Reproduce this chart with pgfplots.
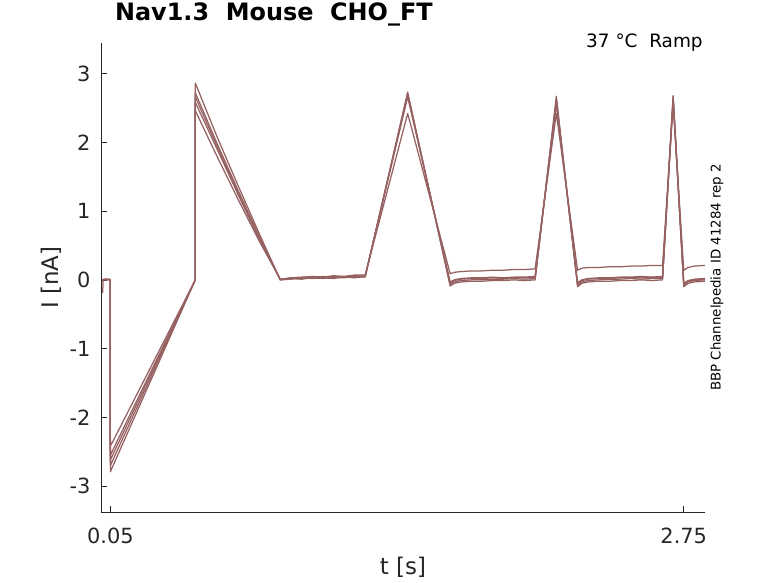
\documentclass[border=0pt]{standalone}
\usepackage{fontspec}
\setmainfont{DejaVu Sans}
\usepackage{pgfplots}
\pgfplotsset{compat=1.18}
\definecolor{trace}{RGB}{150,97,97}
\definecolor{axgray}{RGB}{38,38,38}
\tikzset{tr/.style={draw=trace, line width=1.25bp, line join=round, mark=none}}
\begin{document}
\begin{tikzpicture}
\useasboundingbox (0,0) rectangle (778bp,583bp);
\begin{axis}[
  at={(101bp,70.7bp)}, anchor=south west,
  width=604bp, height=469bp, scale only axis,
  xmin=0.006, xmax=2.85, ymin=-3.38, ymax=3.44,
  clip=false,
  axis line style={draw=none},
  xtick pos=bottom, ytick pos=left,
  xtick={0.05,2.75}, xticklabels={0.05,2.75},
  ytick={-3,-2,-1,0,1,2,3}, yticklabels={-3,-2,-1,0,1,2,3},
  tick align=inside, major tick length=6bp,
  tick style={axgray, line width=0.6bp},
  ticklabel style={font=\fontsize{21}{24}\selectfont, text=axgray},
  xticklabel style={yshift=-12bp},
  yticklabel style={xshift=-7bp},
  xlabel={t [s]}, ylabel={I [nA]},
  label style={font=\fontsize{23}{27}\selectfont, text=axgray},
  xlabel style={at={(axis description cs:0.5,-0.1166)}, anchor=center},
  ylabel style={at={(axis description cs:-0.0828,0.5)}, anchor=center},
  title={Nav1.3~~Mouse~~CHO\_FT},
  title style={at={(axis description cs:0.0175,1.0369)}, anchor=base west, font=\fontsize{24}{28}\selectfont\bfseries, text=black},
]
\draw[axgray, line width=0.6bp, line cap=butt] (axis cs:0.006,3.44) -- (axis cs:0.006,-3.38) -- (axis cs:2.85,-3.38);
% trace 1
\addplot[tr] coordinates {(0.012,-0.19)(0.014,-0.18)(0.016,0.00)(0.025,0.01)(0.035,0.00)(0.049,0.01)(0.0502,-2.79)(0.45,0.00)(0.4502,2.86)(0.55,2.10)(0.65,1.38)(0.75,0.68)(0.85,0.00)(0.90,0.02)(0.95,0.01)(1.00,0.03)(1.05,0.02)(1.10,0.04)(1.15,0.03)(1.20,0.05)(1.25,0.04)(1.45,2.73)(1.65,-0.09)(1.67,-0.05)(1.70,-0.03)(1.75,-0.02)(1.80,-0.02)(1.85,-0.01)(1.90,-0.01)(1.95,0.00)(2.00,-0.01)(2.05,0.00)(2.15,2.67)(2.25,-0.10)(2.27,-0.05)(2.30,-0.03)(2.35,-0.02)(2.40,-0.02)(2.45,-0.01)(2.50,-0.01)(2.55,0.00)(2.60,-0.01)(2.65,0.00)(2.70,2.68)(2.75,-0.10)(2.77,-0.05)(2.80,-0.03)(2.85,-0.02)};
% trace 2
\addplot[tr] coordinates {(0.014,0.00)(0.025,0.01)(0.035,0.00)(0.049,0.00)(0.0502,-2.70)(0.45,0.00)(0.4502,2.72)(0.55,2.00)(0.65,1.31)(0.75,0.64)(0.85,0.00)(0.90,0.01)(0.95,0.03)(1.00,0.02)(1.05,0.03)(1.10,0.02)(1.15,0.04)(1.20,0.03)(1.25,0.05)(1.45,2.71)(1.65,-0.07)(1.67,-0.03)(1.70,-0.01)(1.75,0.00)(1.80,0.00)(1.85,0.01)(1.90,0.01)(1.95,0.02)(2.00,0.01)(2.05,0.02)(2.15,2.63)(2.25,-0.08)(2.27,-0.03)(2.30,-0.01)(2.35,0.00)(2.40,0.01)(2.45,0.01)(2.50,0.02)(2.55,0.01)(2.60,0.02)(2.65,0.02)(2.70,2.66)(2.75,-0.08)(2.77,-0.03)(2.80,-0.01)(2.85,0.00)};
% trace 3
\addplot[tr] coordinates {(0.014,0.00)(0.025,0.00)(0.035,0.01)(0.049,0.00)(0.0502,-2.62)(0.45,0.00)(0.4502,2.66)(0.55,1.96)(0.65,1.28)(0.75,0.62)(0.85,0.01)(0.90,0.02)(0.95,0.02)(1.00,0.04)(1.05,0.03)(1.10,0.05)(1.15,0.04)(1.20,0.06)(1.25,0.05)(1.45,2.69)(1.65,-0.05)(1.67,-0.01)(1.70,0.01)(1.75,0.02)(1.80,0.02)(1.85,0.03)(1.90,0.02)(1.95,0.03)(2.00,0.03)(2.05,0.03)(2.15,2.60)(2.25,-0.06)(2.27,-0.01)(2.30,0.01)(2.35,0.02)(2.40,0.02)(2.45,0.03)(2.50,0.03)(2.55,0.03)(2.60,0.04)(2.65,0.03)(2.70,2.64)(2.75,-0.06)(2.77,-0.02)(2.80,0.00)(2.85,0.01)};
% trace 4
\addplot[tr] coordinates {(0.014,0.01)(0.025,0.00)(0.035,0.01)(0.049,0.00)(0.0502,-2.55)(0.45,0.00)(0.4502,2.58)(0.55,1.92)(0.65,1.25)(0.75,0.60)(0.85,0.00)(0.90,0.03)(0.95,0.02)(1.00,0.03)(1.05,0.05)(1.10,0.03)(1.15,0.05)(1.20,0.04)(1.25,0.06)(1.45,2.66)(1.65,-0.03)(1.67,0.00)(1.70,0.02)(1.75,0.03)(1.80,0.03)(1.85,0.04)(1.90,0.03)(1.95,0.04)(2.00,0.04)(2.05,0.05)(2.15,2.56)(2.25,-0.04)(2.27,0.00)(2.30,0.02)(2.35,0.03)(2.40,0.03)(2.45,0.04)(2.50,0.04)(2.55,0.05)(2.60,0.04)(2.65,0.05)(2.70,2.62)(2.75,-0.05)(2.77,-0.01)(2.80,0.01)(2.85,0.02)};
% trace 5
\addplot[tr] coordinates {(0.014,0.00)(0.025,0.01)(0.035,0.01)(0.049,0.00)(0.0502,-2.42)(0.45,0.00)(0.4502,2.46)(0.55,1.81)(0.65,1.18)(0.75,0.57)(0.85,0.01)(0.90,0.03)(0.95,0.04)(1.00,0.05)(1.05,0.04)(1.10,0.06)(1.15,0.05)(1.20,0.07)(1.25,0.07)(1.45,2.42)(1.65,0.09)(1.67,0.11)(1.70,0.12)(1.75,0.13)(1.80,0.13)(1.85,0.14)(1.90,0.14)(1.95,0.15)(2.00,0.15)(2.05,0.16)(2.15,2.42)(2.25,0.14)(2.27,0.17)(2.30,0.18)(2.35,0.18)(2.40,0.19)(2.45,0.19)(2.50,0.20)(2.55,0.20)(2.60,0.21)(2.65,0.21)(2.70,2.56)(2.75,0.14)(2.77,0.18)(2.80,0.20)(2.85,0.21)};
\node[anchor=base east, font=\fontsize{18.5}{22}\selectfont, text=black] at (axis description cs:1.002,0.9915) {37~°C~~Ramp};
\node[rotate=90, anchor=center, font=\fontsize{13.4}{16}\selectfont, text=black] at (axis description cs:1.0199,0.5009) {BBP Channelpedia ID 41284 rep 2};
\end{axis}
\end{tikzpicture}
\end{document}
